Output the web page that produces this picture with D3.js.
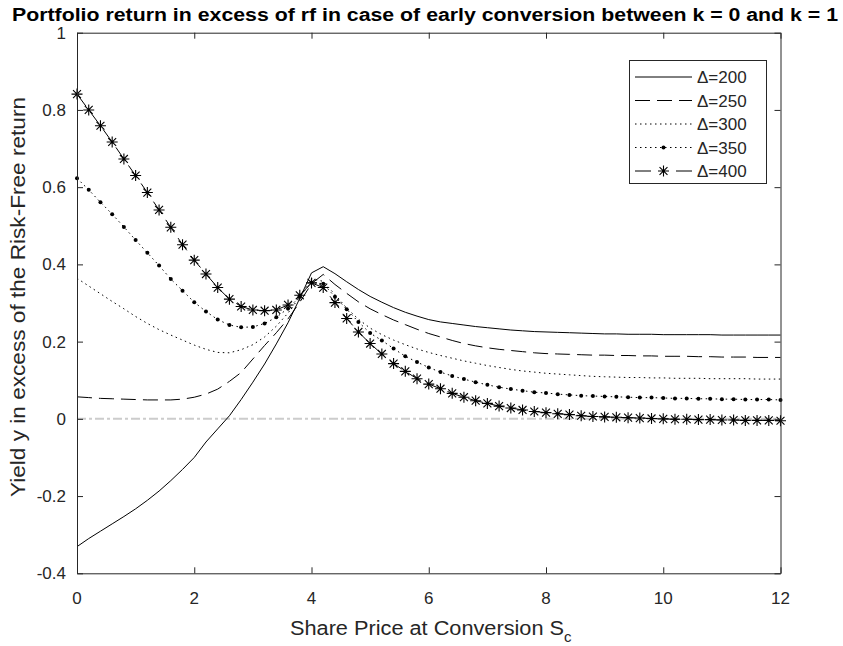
<!DOCTYPE html>
<html>
<head>
<meta charset="utf-8">
<script src="https://cdn.jsdelivr.net/npm/d3@7"></script>
<style>
  html, body { margin: 0; padding: 0; background: #fff; }
  svg { display: block; font-family: "Liberation Sans", Arial, sans-serif; }
</style>
</head>
<body>
<svg id="chart" width="843" height="646"></svg>
<script>
// Share price at conversion (x samples)
const sharePrice = [0, 0.2, 0.4, 0.6, 0.8, 1.0, 1.2, 1.4, 1.6, 1.8, 2.0, 2.2, 2.4, 2.6, 2.8, 3.0,
  3.2, 3.4, 3.6, 3.8, 4.0, 4.2, 4.4, 4.6, 4.8, 5.0, 5.2, 5.4, 5.6, 5.8, 6.0, 6.2, 6.4, 6.6, 6.8,
  7.0, 7.2, 7.4, 7.6, 7.8, 8.0, 8.2, 8.4, 8.6, 8.8, 9.0, 9.2, 9.4, 9.6, 9.8, 10.0, 10.2, 10.4,
  10.6, 10.8, 11.0, 11.2, 11.4, 11.6, 11.8, 12.0];

// Excess yield for each Δ
const yield200 = [-0.331, -0.310, -0.291, -0.272, -0.253, -0.233, -0.211, -0.187, -0.160, -0.131,
  -0.100, -0.060, -0.026, 0.008, 0.050, 0.095, 0.142, 0.194, 0.249, 0.312, 0.378, 0.394, 0.376,
  0.355, 0.335, 0.317, 0.302, 0.288, 0.276, 0.266, 0.257, 0.251, 0.247, 0.243, 0.239, 0.236,
  0.233, 0.230, 0.228, 0.226, 0.225, 0.224, 0.223, 0.222, 0.221, 0.220, 0.220, 0.219, 0.219,
  0.219, 0.218, 0.218, 0.218, 0.218, 0.218, 0.217, 0.217, 0.217, 0.217, 0.217, 0.217];
const yield250 = [0.057, 0.055, 0.053, 0.052, 0.051, 0.050, 0.049, 0.049, 0.049, 0.051, 0.056,
  0.064, 0.077, 0.097, 0.120, 0.155, 0.190, 0.223, 0.259, 0.302, 0.350, 0.374, 0.348, 0.325,
  0.303, 0.285, 0.270, 0.256, 0.244, 0.232, 0.221, 0.212, 0.203, 0.195, 0.189, 0.184, 0.180,
  0.177, 0.174, 0.171, 0.169, 0.168, 0.167, 0.166, 0.165, 0.165, 0.164, 0.164, 0.163, 0.163,
  0.162, 0.162, 0.162, 0.161, 0.161, 0.160, 0.160, 0.160, 0.159, 0.159, 0.159];
const yield300 = [0.364, 0.344, 0.324, 0.304, 0.285, 0.265, 0.247, 0.231, 0.217, 0.204, 0.191,
  0.180, 0.172, 0.171, 0.179, 0.192, 0.212, 0.240, 0.274, 0.316, 0.363, 0.356, 0.322, 0.287,
  0.258, 0.235, 0.218, 0.204, 0.192, 0.181, 0.172, 0.164, 0.157, 0.150, 0.144, 0.138, 0.133,
  0.128, 0.124, 0.121, 0.118, 0.116, 0.114, 0.112, 0.110, 0.109, 0.108, 0.107, 0.107, 0.106,
  0.106, 0.105, 0.105, 0.105, 0.104, 0.104, 0.104, 0.104, 0.103, 0.103, 0.103];
const yield350 = [0.623, 0.593, 0.561, 0.530, 0.497, 0.463, 0.430, 0.397, 0.362, 0.332, 0.302,
  0.278, 0.257, 0.243, 0.237, 0.238, 0.247, 0.263, 0.286, 0.316, 0.353, 0.350, 0.316, 0.284,
  0.251, 0.222, 0.203, 0.182, 0.162, 0.147, 0.133, 0.121, 0.111, 0.103, 0.095, 0.088, 0.082,
  0.077, 0.073, 0.069, 0.067, 0.064, 0.062, 0.060, 0.059, 0.058, 0.057, 0.056, 0.055, 0.055,
  0.054, 0.053, 0.053, 0.052, 0.052, 0.051, 0.051, 0.050, 0.050, 0.050, 0.049];
const yield400 = [0.841, 0.800, 0.759, 0.717, 0.673, 0.630, 0.586, 0.541, 0.496, 0.451, 0.411,
  0.375, 0.340, 0.310, 0.291, 0.282, 0.280, 0.282, 0.295, 0.320, 0.352, 0.340, 0.301, 0.260,
  0.225, 0.195, 0.168, 0.143, 0.123, 0.104, 0.090, 0.078, 0.066, 0.056, 0.047, 0.040, 0.033,
  0.028, 0.023, 0.019, 0.016, 0.013, 0.011, 0.008, 0.006, 0.005, 0.004, 0.003, 0.002, 0.001,
  0.000, -0.001, -0.001, -0.002, -0.002, -0.003, -0.003, -0.004, -0.004, -0.004, -0.005];

const seriesNames = ["\u0394=200", "\u0394=250", "\u0394=300", "\u0394=350", "\u0394=400"];
const xTicks = [0, 2, 4, 6, 8, 10, 12];
const yTicks = [-0.4, -0.2, 0, 0.2, 0.4, 0.6, 0.8, 1];
const xTickLabels = ["0", "2", "4", "6", "8", "10", "12"];
const yTickLabels = ["-0.4", "-0.2", "0", "0.2", "0.4", "0.6", "0.8", "1"];

const titleText = "Portfolio return in excess of rf in case of early conversion between k = 0 and k = 1";
const xLabelText = "Share Price at Conversion S";
const yLabelText = "Yield y in excess of the Risk-Free return";

// Line styles per series
const styles = [
  { dash: null, width: 1, marker: null },
  { dash: "15,7", width: 1, marker: null },
  { dash: "1.5,3.5", width: 1, marker: null },
  { dash: "1.5,3.5", width: 1, marker: "dot" },
  { dash: "15,7", width: 1, marker: "star" }
];

const svg = d3.select("#chart");
const axisColor = "#262626";
const fontFamily = "Liberation Sans, Arial, sans-serif";

const x = d3.scaleLinear().domain([0, 12]).range([77, 780.5]);
const y = d3.scaleLinear().domain([-0.4, 1]).range([573.3, 32.7]);

// Reference line at zero
svg.append("line")
  .attr("x1", x(0)).attr("x2", x(12))
  .attr("y1", y(0)).attr("y2", y(0))
  .attr("stroke", "#cccccc").attr("stroke-width", 2)
  .attr("stroke-dasharray", "9,3,3,3");

const allSeries = [yield200, yield250, yield300, yield350, yield400];
const line = d3.line().x((d, i) => x(sharePrice[i])).y(d => y(d));

function starPath(s) {
  const d = s * 0.72;
  return `M${-s},0L${s},0M0,${-s}L0,${s}M${-d},${-d}L${d},${d}M${-d},${d}L${d},${-d}`;
}

const plot = svg.append("g");
allSeries.forEach((vals, k) => {
  const st = styles[k];
  plot.append("path")
    .attr("d", line(vals))
    .attr("fill", "none")
    .attr("stroke", "#000")
    .attr("stroke-width", st.width)
    .attr("stroke-dasharray", st.dash);
  if (st.marker === "dot") {
    plot.selectAll(null).data(vals).enter().append("circle")
      .attr("cx", (d, i) => x(sharePrice[i])).attr("cy", d => y(d))
      .attr("r", 2).attr("fill", "#000");
  } else if (st.marker === "star") {
    plot.selectAll(null).data(vals).enter().append("path")
      .attr("transform", (d, i) => `translate(${x(sharePrice[i])},${y(d)})`)
      .attr("d", starPath(5.5))
      .attr("stroke", "#000").attr("stroke-width", 1.1).attr("fill", "none");
  }
});

// Axes box with inward ticks on all four sides (labels drawn separately)
const tickLen = 6;
function styleAxis(g) {
  g.selectAll("path").attr("stroke", axisColor).attr("stroke-width", 1);
  g.selectAll("line").attr("stroke", axisColor).attr("stroke-width", 1);
  g.selectAll("text").remove();
}
svg.append("g").attr("transform", `translate(0,${y(-0.4)})`)
  .call(d3.axisBottom(x).tickValues(xTicks).tickSizeInner(-tickLen).tickSizeOuter(0)).call(styleAxis);
svg.append("g").attr("transform", `translate(0,${y(1)})`)
  .call(d3.axisTop(x).tickValues(xTicks).tickSizeInner(-tickLen).tickSizeOuter(0)).call(styleAxis);
svg.append("g").attr("transform", `translate(${x(0)},0)`)
  .call(d3.axisLeft(y).tickValues(yTicks).tickSizeInner(-tickLen).tickSizeOuter(0)).call(styleAxis);
svg.append("g").attr("transform", `translate(${x(12)},0)`)
  .call(d3.axisRight(y).tickValues(yTicks).tickSizeInner(-tickLen).tickSizeOuter(0)).call(styleAxis);

// Tick labels
svg.append("g").selectAll("text").data(xTicks).enter().append("text")
  .attr("x", d => x(d)).attr("y", 604)
  .attr("text-anchor", "middle")
  .attr("font-size", 17).attr("font-family", fontFamily).attr("fill", axisColor)
  .text((d, i) => xTickLabels[i]);
svg.append("g").selectAll("text").data(yTicks).enter().append("text")
  .attr("x", 66).attr("y", d => y(d) + 6)
  .attr("text-anchor", "end")
  .attr("font-size", 17).attr("font-family", fontFamily).attr("fill", axisColor)
  .text((d, i) => yTickLabels[i]);

// Title
svg.append("text")
  .attr("x", 12).attr("y", 21)
  .attr("font-size", 18).attr("font-weight", "bold").attr("fill", "#000")
  .attr("textLength", 826).attr("lengthAdjust", "spacingAndGlyphs")
  .text(titleText);

// X label with subscript
const xl = svg.append("text")
  .attr("x", 290).attr("y", 635)
  .attr("font-size", 20).attr("fill", axisColor);
xl.append("tspan").attr("textLength", 274).attr("lengthAdjust", "spacingAndGlyphs").text(xLabelText);
xl.append("tspan").attr("font-size", 15).attr("dy", 7).text("c");

// Y label
svg.append("text")
  .attr("transform", `translate(25,${(y(1) + y(-0.4)) / 2 - 6}) rotate(-90)`)
  .attr("text-anchor", "middle")
  .attr("font-size", 20).attr("fill", axisColor)
  .attr("textLength", 400).attr("lengthAdjust", "spacingAndGlyphs")
  .text(yLabelText);

// Legend
const legend = svg.append("g");
legend.append("rect")
  .attr("x", 629.5).attr("y", 60.5).attr("width", 137).attr("height", 123)
  .attr("fill", "#fff").attr("stroke", axisColor).attr("stroke-width", 1);
const legendY = [77, 100.5, 124, 147.5, 171];
seriesNames.forEach((name, k) => {
  const st = styles[k];
  const ly = legendY[k];
  if (st.marker === "star") {
    legend.append("line").attr("x1", 635).attr("x2", 651).attr("y1", ly).attr("y2", ly)
      .attr("stroke", "#000").attr("stroke-width", st.width);
    legend.append("line").attr("x1", 676).attr("x2", 692).attr("y1", ly).attr("y2", ly)
      .attr("stroke", "#000").attr("stroke-width", st.width);
    legend.append("path").attr("transform", `translate(663.5,${ly})`).attr("d", starPath(5.5))
      .attr("stroke", "#000").attr("stroke-width", 1.1).attr("fill", "none");
  } else {
    legend.append("line")
      .attr("x1", 635).attr("x2", 692).attr("y1", ly).attr("y2", ly)
      .attr("stroke", "#000").attr("stroke-width", st.width)
      .attr("stroke-dasharray", st.dash);
    if (st.marker === "dot") {
      legend.append("circle").attr("cx", 663.5).attr("cy", ly).attr("r", 2).attr("fill", "#000");
    }
  }
  legend.append("text")
    .attr("x", 697).attr("y", ly + 6)
    .attr("font-size", 17).attr("font-family", fontFamily).attr("fill", axisColor)
    .text(name);
});
</script>
</body>
</html>
